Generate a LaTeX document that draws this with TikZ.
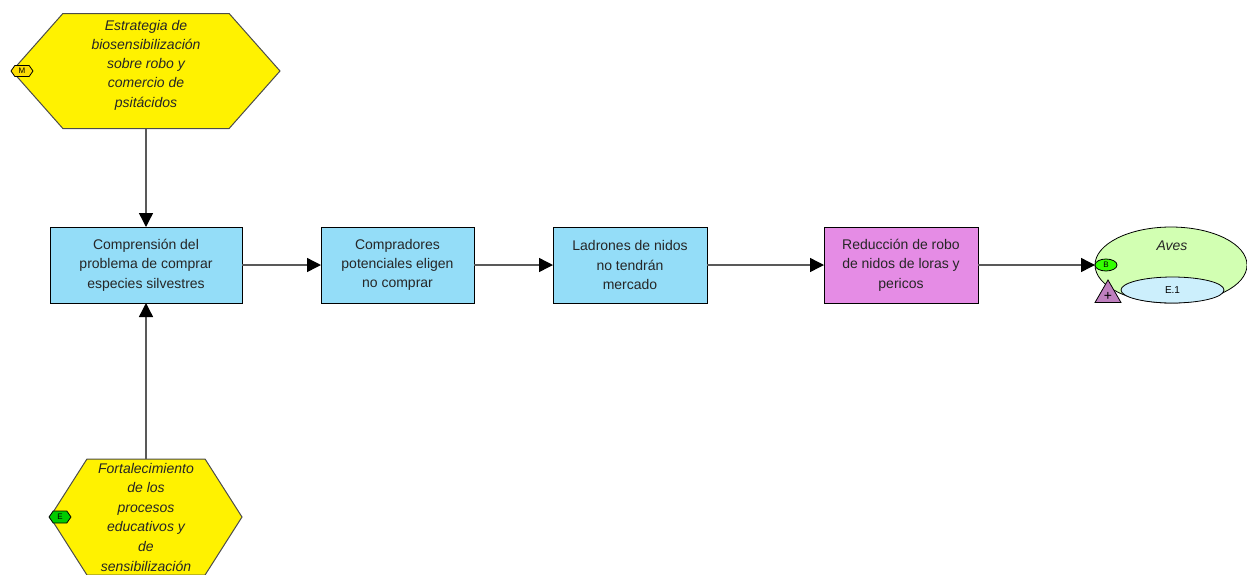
\documentclass[tikz,border=0pt]{standalone}
\usepackage{fontspec}
\setmainfont{Liberation Sans}
\usepackage{tikz}
\usetikzlibrary{arrows.meta, shapes.geometric, shapes.symbols}
\tikzset{
  label14/.style={font=\fontsize{14}{19.3}\selectfont, align=center, inner sep=0pt, text=black!85},
  hexa/.style={draw=black!70, line width=1pt, fill=yellow, shape=signal, signal to=east and west, inner sep=0pt, outer sep=0pt},
  boxa/.style={draw=black, line width=0.8pt, fill=cyan!42, minimum height=76pt, inner sep=0pt, outer sep=0pt, label14},
  link/.style={draw=black!65, line width=1.4pt, -{Triangle[length=14pt,width=14pt,color=black]}},
  badge/.style={draw=black, line width=0.8pt, inner sep=0pt, outer sep=0pt, font=\fontsize{8}{8}\selectfont}
}
\begin{document}
\begin{tikzpicture}[x=1pt,y=-1pt]
\useasboundingbox (0,0) rectangle (1247,574);

\node [hexa, minimum width=268pt, minimum height=115pt, signal pointer angle=97] (hex1) at (146,71) {};
\node [hexa, minimum width=192pt, minimum height=116pt, signal pointer angle=115] (hex2) at (146,517) {};
\node [label14, font=\fontsize{14}{19.3}\selectfont\itshape] (hex1text) at (146,65) {Estrategia de\\biosensibilización\\sobre robo y\\comercio de\\psitácidos};
\node [label14, font=\fontsize{14}{19.6}\selectfont\itshape] (hex2text) at (146,517) {Fortalecimiento\\de los\\procesos\\educativos y\\de\\sensibilización};

\node [boxa, minimum width=192pt] (box1) at (146,265) {Comprensión del\\problema de comprar\\especies silvestres};
\node [boxa, minimum width=153pt] (box2) at (397.5,265) {Compradores\\potenciales eligen\\no comprar};
\node [boxa, minimum width=154pt] (box3) at (630,265) {Ladrones de nidos\\no tendrán\\mercado};
\node [boxa, minimum width=154pt, fill=violet!45!magenta!45] (box4) at (901,265) {Reducción de robo\\de nidos de loras y\\pericos};

\node [draw=black, line width=0.8pt, fill=green!45!lime!30, ellipse, minimum width=152pt, minimum height=76pt, inner sep=0pt] (aves) at (1171,265) {};
\node [label14, font=\fontsize{14}{14}\selectfont\itshape] (avestext) at (1172,246) {Aves};
\node [draw=black, line width=0.8pt, fill=cyan!20, ellipse, minimum width=103pt, minimum height=26pt, inner sep=0pt, font=\fontsize{10}{10}\selectfont] (e1) at (1172.5,290) {E.1};
\node [badge, ellipse, fill=green!80!yellow, minimum width=22pt, minimum height=12pt] (badgeb) at (1106,265) {B};
\node [draw=black, line width=0.8pt, fill=violet!50, regular polygon, regular polygon sides=3, minimum size=30pt, inner sep=0pt] (plus) at (1108,295) {};
\node [inner sep=0pt, font=\fontsize{14}{14}\selectfont] (plustext) at (1108,296) {+};

\node [badge, shape=signal, signal to=east and west, fill=yellow!80!orange, minimum width=22pt, minimum height=11pt, signal pointer angle=110] (badgem) at (22,71) {M};
\node [badge, shape=signal, signal to=east and west, fill=green!80!black, minimum width=22pt, minimum height=12pt, signal pointer angle=110] (badgee) at (60,517) {E};

\draw [link] (hex1.south) -- (box1.north);
\draw [link] (hex2.north) -- (box1.south);
\draw [link] (box1) -- (box2);
\draw [link] (box2) -- (box3);
\draw [link] (box3) -- (box4);
\draw [link] (box4) -- (badgeb);
\end{tikzpicture}
\end{document}
